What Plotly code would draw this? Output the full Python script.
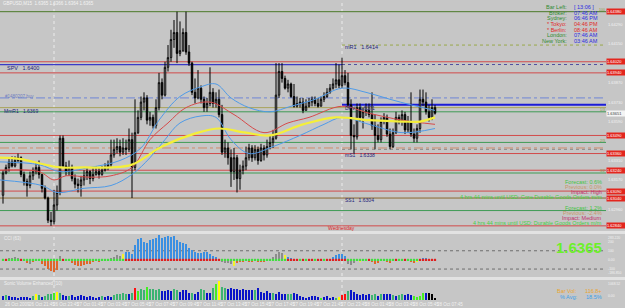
import plotly.graph_objects as go
import pandas as pd

# ---------------- data ----------------
symbol_title = "GBPUSD,M15  1.6365 1.6366 1.6364 1.6365"
start_time = "2009-10-26 19:45"
first_open = 1.6306
close = [1.6322, 1.6326, 1.6330, 1.6327, 1.6331, 1.6333, 1.6321, 1.6316, 1.6313, 1.6320,
         1.6323, 1.6326, 1.6321, 1.6311, 1.6304, 1.6288, 1.6287, 1.6299, 1.6308, 1.6347,
         1.6327, 1.6323, 1.6326, 1.6318, 1.6314, 1.6313, 1.6317, 1.6320, 1.6323, 1.6318,
         1.6321, 1.6323, 1.6321, 1.6324, 1.6326, 1.6328, 1.6335, 1.6339, 1.6341, 1.6337,
         1.6340, 1.6339, 1.6346, 1.6326, 1.6351, 1.6362, 1.6373, 1.6376, 1.6360, 1.6362,
         1.6356, 1.6369, 1.6387, 1.6378, 1.6398, 1.6405, 1.6418, 1.6423, 1.6408, 1.6410,
         1.6423, 1.6409, 1.6401, 1.6380, 1.6376, 1.6383, 1.6375, 1.6369, 1.6372, 1.6380,
         1.6372, 1.6375, 1.6364, 1.6337, 1.6340, 1.6333, 1.6323, 1.6333, 1.6318, 1.6324,
         1.6327, 1.6333, 1.6340, 1.6333, 1.6339, 1.6331, 1.6340, 1.6335, 1.6341, 1.6344,
         1.6347, 1.6378, 1.6395, 1.6390, 1.6383, 1.6386, 1.6377, 1.6370, 1.6372, 1.6373,
         1.6367, 1.6370, 1.6373, 1.6375, 1.6372, 1.6370, 1.6375, 1.6377, 1.6380, 1.6383,
         1.6386, 1.6389, 1.6385, 1.6392, 1.6387, 1.6371, 1.6349, 1.6348, 1.6369, 1.6362,
         1.6366, 1.6367, 1.6364, 1.6356, 1.6349, 1.6346, 1.6359, 1.6362, 1.6350, 1.6341,
         1.6351, 1.6362, 1.6359, 1.6364, 1.6353, 1.6359, 1.6350, 1.6347, 1.6354, 1.6375,
         1.6373, 1.6366, 1.6362, 1.6369, 1.6365]
high = [1.6324, 1.6328, 1.6333, 1.6334, 1.6334, 1.6336, 1.6334, 1.6323, 1.6318, 1.6323,
        1.6326, 1.6329, 1.6331, 1.6321, 1.6313, 1.6305, 1.6294, 1.6310, 1.6313, 1.6349,
        1.6349, 1.6330, 1.6331, 1.6328, 1.6321, 1.6318, 1.6320, 1.6324, 1.6326, 1.6324,
        1.6326, 1.6327, 1.6326, 1.6327, 1.6329, 1.6331, 1.6346, 1.6346, 1.6347, 1.6346,
        1.6347, 1.6346, 1.6354, 1.6351, 1.6375, 1.6367, 1.6377, 1.6380, 1.6378, 1.6366,
        1.6364, 1.6375, 1.6394, 1.6390, 1.6402, 1.6414, 1.6425, 1.6432, 1.6438, 1.6431,
        1.6426, 1.6438, 1.6414, 1.6402, 1.6390, 1.6396, 1.6385, 1.6377, 1.6376, 1.6398,
        1.6383, 1.6380, 1.6382, 1.6371, 1.6346, 1.6344, 1.6339, 1.6340, 1.6335, 1.6328,
        1.6331, 1.6341, 1.6343, 1.6342, 1.6342, 1.6341, 1.6343, 1.6342, 1.6346, 1.6349,
        1.6353, 1.6401, 1.6401, 1.6401, 1.6392, 1.6389, 1.6387, 1.6386, 1.6377, 1.6376,
        1.6376, 1.6375, 1.6376, 1.6377, 1.6377, 1.6376, 1.6377, 1.6380, 1.6383, 1.6386,
        1.6390, 1.6401, 1.6400, 1.6405, 1.6396, 1.6394, 1.6375, 1.6357, 1.6372, 1.6372,
        1.6369, 1.6372, 1.6372, 1.6380, 1.6364, 1.6357, 1.6362, 1.6365, 1.6364, 1.6354,
        1.6354, 1.6366, 1.6364, 1.6367, 1.6366, 1.6363, 1.6380, 1.6354, 1.6357, 1.6382,
        1.6382, 1.6380, 1.6371, 1.6375, 1.6371]
low = [1.6300, 1.6321, 1.6323, 1.6326, 1.6326, 1.6329, 1.6319, 1.6313, 1.6305, 1.6311,
       1.6317, 1.6321, 1.6318, 1.6308, 1.6303, 1.6286, 1.6284, 1.6285, 1.6295, 1.6306,
       1.6326, 1.6320, 1.6320, 1.6316, 1.6311, 1.6308, 1.6305, 1.6313, 1.6317, 1.6314,
       1.6316, 1.6320, 1.6318, 1.6320, 1.6323, 1.6324, 1.6326, 1.6333, 1.6336, 1.6334,
       1.6335, 1.6335, 1.6337, 1.6304, 1.6324, 1.6350, 1.6360, 1.6367, 1.6357, 1.6356,
       1.6354, 1.6354, 1.6367, 1.6375, 1.6377, 1.6395, 1.6402, 1.6412, 1.6401, 1.6406,
       1.6409, 1.6407, 1.6399, 1.6378, 1.6372, 1.6375, 1.6372, 1.6366, 1.6366, 1.6370,
       1.6369, 1.6369, 1.6362, 1.6335, 1.6333, 1.6328, 1.6312, 1.6317, 1.6308, 1.6310,
       1.6321, 1.6324, 1.6331, 1.6330, 1.6331, 1.6328, 1.6330, 1.6331, 1.6333, 1.6339,
       1.6340, 1.6346, 1.6376, 1.6387, 1.6382, 1.6380, 1.6376, 1.6369, 1.6369, 1.6369,
       1.6365, 1.6367, 1.6369, 1.6370, 1.6370, 1.6369, 1.6370, 1.6373, 1.6376, 1.6379,
       1.6382, 1.6383, 1.6383, 1.6383, 1.6385, 1.6369, 1.6339, 1.6336, 1.6346, 1.6359,
       1.6354, 1.6363, 1.6362, 1.6353, 1.6339, 1.6344, 1.6344, 1.6357, 1.6348, 1.6339,
       1.6340, 1.6350, 1.6357, 1.6356, 1.6350, 1.6351, 1.6348, 1.6344, 1.6344, 1.6351,
       1.6370, 1.6364, 1.6359, 1.6360, 1.6364]

# moving averages (bar index, price) read at sample points
ma_yellow_x = [-1, 6, 12, 19, 27, 36, 43, 53, 65, 72, 81, 89, 100, 111, 122, 133, 139, 144]
ma_yellow = [1.6333, 1.6332, 1.6329, 1.6326, 1.6326, 1.6326, 1.6328, 1.6341, 1.6351, 1.6354,
             1.6351, 1.6349, 1.6357, 1.6362, 1.6360, 1.6359, 1.6359, 1.6362]
ma_red_x = [-1, 12, 17, 21, 29, 36, 43, 49, 55, 61, 69, 77, 87, 95, 102, 113, 122, 133, 144]
ma_red = [1.6324, 1.6323, 1.6317, 1.6320, 1.6319, 1.6320, 1.6326, 1.6346, 1.6358, 1.6369,
          1.6373, 1.6364, 1.6351, 1.6358, 1.6362, 1.6370, 1.6365, 1.6360, 1.6357]
ma_up_x = [-1, 12, 19, 29, 39, 46, 52, 59, 66, 71, 76, 82, 89, 96, 104, 113, 121, 129, 136, 144]
ma_up = [1.6330, 1.6328, 1.6323, 1.6326, 1.6331, 1.6340, 1.6360, 1.6377, 1.6384, 1.6386,
         1.6376, 1.6369, 1.6366, 1.6370, 1.6375, 1.6383, 1.6380, 1.6375, 1.6371, 1.6367]
ma_lo_x = [-1, 13, 18, 27, 36, 43, 49, 54, 59, 66, 71, 76, 82, 90, 99, 107, 113, 122, 133, 144]
ma_lo = [1.6317, 1.6313, 1.6308, 1.6311, 1.6313, 1.6321, 1.6333, 1.6346, 1.6358, 1.6363,
         1.6362, 1.6346, 1.6336, 1.6341, 1.6349, 1.6357, 1.6362, 1.6357, 1.6351, 1.6354]

cci = [5, 10, 20, 25, 30, 20, 5, -10, -30, -45, -20, -10, -15, -40, -70, -100, -120, -128, -110, 45,
       10, 0, -10, -35, -55, -70, -65, -55, -40, -45, -25, -15, -20, -15, -10, -5, 20, 35, 50, 45,
       60, 85, 90, 70, 160, 230, 245, 200, 190, 215, 225, 245, 272, 240, 255, 265, 255, 260, 215, 200,
       190, 170, 130, 110, 90, 75, 80, 90, 85, 70, 45, 30, 15, -25, -30, -35, -40, -65, -30, -20,
       -20, -15, -25, -20, -15, -20, -18, -22, -15, -10, 30, 70, 90, 75, 50, 35, 25, 10, 5, -5,
       3, -3, 5, 2, -4, 3, 6, -2, 4, 8, 30, 55, 70, 65, 45, -40, -55, -30, -10, -20,
       -15, -5, 5, -25, -50, -35, -10, -15, -25, -30, -10, 10, -5, -10, 5, -15, -25, -30, -20, 15,
       25, 20, 15, 10, 12]

volume = [200, 250, 200, 150, 150, 100, 150, 150, 150, 100, 200, 300, 250, 150, 200, 300, 350, 400, 450, 400,
          250, 200, 200, 250, 150, 200, 250, 200, 150, 200, 150, 100, 150, 200, 150, 200, 150, 250, 350, 300,
          400, 350, 300, 400, 650, 500, 600, 550, 700, 600, 600, 550, 600, 500, 500, 550, 500, 600, 550, 450,
          550, 550, 400, 400, 350, 450, 600, 550, 400, 400, 650, 850, 1050, 700, 650, 600, 650, 600, 600, 550,
          600, 550, 550, 550, 550, 650, 450, 400, 500, 400, 400, 350, 450, 350, 300, 350, 300, 400, 350, 200,
          150, 100, 150, 200, 200, 150, 100, 150, 200, 100, 150, 100, 150, 250, 350, 500, 550, 450, 300, 250,
          300, 250, 300, 250, 300, 200, 350, 350, 300, 350, 250, 200, 250, 300, 250, 300, 250, 200, 150, 200,
          400, 400, 400, 350, 100]
volume_class = list("BGBBBBBBBBGYGBGGGLYGBBGBBBBBBBBBBGBBBGGGGGBGRLGGLGGGGBBBBGGBBBBGBBGGBBGLYGGBBBBBBBBBGBBBBBGBBBBGGBBBBBBBBBLBBBBGYRRGBBBBBBBGGBGBBBGBGGBBBLLLLB")

level_prices = [1.6438, 1.6414, 1.6402, 1.6400, 1.6400, 1.6394, 1.6376, 1.6371, 1.6369, 1.6366,
                1.6349, 1.6344, 1.6340, 1.6339, 1.6336, 1.6324, 1.6322, 1.6309, 1.6304, 1.6295, 1.6284]
marked_prices = [1.6438, 1.6402, 1.6394, 1.6349, 1.6336, 1.6324, 1.6309, 1.6304, 1.6284]
axis_prices = [1.6429, 1.6415, 1.6387, 1.6373, 1.6359, 1.6331, 1.6317, 1.6296]

clock_labels = ["Bar Left:", "Broker:", "Sydney:", "* Tokyo:", "* Berlin:", "London:", "New York:"]
clock_values = ["[ 13:06 ]", "07:46 AM", "06:46 PM", "04:46 PM", "08:46 AM", "07:46 AM", "03:46 AM"]
news_lines = ["Forecast: 0.6%", "Previous: 0.0%", "Impact: High",
              "4 hrs 44 mins until USD: Core Durable Goods Orders m/m",
              "Forecast: 1.2%", "Previous: -2.4%", "Impact: Medium",
              "4 hrs 44 mins until USD: Durable Goods Orders m/m"]

# ---------------- styles / geometry ----------------
W, H = 625, 308
PW, PH = 606, 300           # plot area (px)
BG = "#c6c6c6"
FONT = "Liberation Sans, Arial, sans-serif"
n = len(close)
idx = list(range(n))
opens = [first_open] + close[:-1]
XR = [-1, PW / 3 - 1]

def py2paper(py):
    return 1 - py / PH

fig = go.Figure()

fig.add_trace(go.Candlestick(
    x=idx, open=opens, high=high, low=low, close=close,
    increasing=dict(line=dict(color="black", width=1), fillcolor="white"),
    decreasing=dict(line=dict(color="black", width=1), fillcolor="black"),
    whiskerwidth=0, hoverinfo="skip", xaxis="x", yaxis="y", showlegend=False))

for xs, ys, col, wd in [(ma_lo_x, ma_lo, "#4f9be8", 1), (ma_up_x, ma_up, "#4f9be8", 1),
                        (ma_red_x, ma_red, "#d64a4a", 1), (ma_yellow_x, ma_yellow, "#f4ef3a", 2.2)]:
    fig.add_trace(go.Scatter(x=xs, y=ys, mode="lines", line=dict(color=col, width=wd, shape="spline"),
                             hoverinfo="skip", showlegend=False, xaxis="x", yaxis="y"))

# CCI colours
yellow_idx = {0, 40, 77, 94, 119, 138}
gray_idx = set(range(2, 6)) | {9, 19} | set(range(36, 40)) | set(range(73, 77)) | set(range(90, 94)) | {115, 116, 117}
cci_cols = []
for i, v in enumerate(cci):
    if i in yellow_idx:
        cci_cols.append("#f2f22a")
    elif i in gray_idx:
        cci_cols.append("#8c8c8c")
    elif v > 0:
        cci_cols.append("#3a8fe2")
    else:
        cci_cols.append("#e0662a")
fig.add_trace(go.Bar(x=idx, y=cci, marker=dict(color=cci_cols, line=dict(width=0)), width=0.9,
                     hoverinfo="skip", showlegend=False, xaxis="x2", yaxis="y2"))
dot_cols = ["#e02020" if (v > 0 and i not in gray_idx and i not in yellow_idx) else "#40e040"
            for i, v in enumerate(cci)]
fig.add_trace(go.Scatter(x=idx, y=[0] * n, mode="markers",
                         marker=dict(symbol="square", size=2.2, color=dot_cols),
                         hoverinfo="skip", showlegend=False, xaxis="x2", yaxis="y2"))

vcol = {"B": "#0a14c8", "G": "#3cb371", "L": "#44ee22", "Y": "#ffff00", "R": "#ff1010"}
fig.add_trace(go.Bar(x=idx, y=volume, marker=dict(color=[vcol[c] for c in volume_class], line=dict(width=0)),
                     width=0.85, hoverinfo="skip", showlegend=False, xaxis="x3", yaxis="y3"))

# ---------------- level lines ----------------
level_styles = [("#4d7a2a", 1, "solid", -1), ("#9aa84a", 1, "dot", 113), ("#d24b4b", 1, "solid", -1),
                ("#3a3ac8", 1.3, "solid", -1), ("#5050a0", 1, "dot", 113), ("#d24b4b", 1, "solid", -1),
                ("#6f86d6", 1, "dashdot", -1), ("#1c1cd8", 2, "solid", 113), ("#a9a35a", 1, "solid", -1),
                ("#3f9b55", 1, "solid", -1), ("#d24b4b", 1, "solid", -1), ("#3f9b55", 1, "solid", -1),
                ("#d08a6a", 1, "dashdot", -1), ("#8c8c8c", 1, "dot", 113), ("#d24b4b", 1, "solid", -1),
                ("#d24b4b", 1, "solid", -1), ("#3f9b55", 1, "solid", -1), ("#d24b4b", 1, "solid", -1),
                ("#8b6a30", 1, "solid", -1), ("#3f9b55", 1, "solid", -1), ("#d24b4b", 1, "solid", -1)]
shapes = []
for p, (col, wd, dash, x0) in zip(level_prices, level_styles):
    x1 = 113 if (dash == "solid" and col == "#3a3ac8") else XR[1]
    shapes.append(dict(type="line", xref="x", yref="y", x0=x0, x1=x1, y0=p, y1=p,
                       line=dict(color=col, width=wd, dash=dash), layer="below"))
# day separators
for xs in (17, 113):
    shapes.append(dict(type="line", xref="x", yref="paper", x0=xs, x1=xs, y0=0, y1=1,
                       line=dict(color="#ececec", width=1, dash="dot"), layer="below"))
# pane separators
for a, b in ((231, 234), (277, 280)):
    shapes.append(dict(type="rect", xref="paper", yref="paper", x0=0, x1=1.04, y0=py2paper(b), y1=py2paper(a),
                       fillcolor="#e2e2e2", line=dict(width=0), layer="above"))
# CCI dotted levels
for v in (100, -100):
    shapes.append(dict(type="line", xref="paper", yref="y2", x0=0, x1=1, y0=v, y1=v,
                       line=dict(color="#6e6e6e", width=1, dash="dot"), layer="below"))

# ---------------- annotations ----------------
ann = []

def txt(px, py, text, color, size=5.5, xa="left", bg=None, bold=False):
    t = f"<b>{text}</b>" if bold else text
    ann.append(dict(x=px / PW, y=py2paper(py), xref="paper", yref="paper", text=t, showarrow=False,
                    font=dict(family=FONT, size=size, color=color), xanchor=xa, yanchor="middle",
                    bgcolor=bg, borderpad=0))

txt(2, 4, symbol_title, "#f4f4f4", 4.5)
txt(6, 68, "SPV   1.6400", "#22227a", 5.5)
txt(4, 97, "#1480207 buy", "#7080c0", 4.5)
txt(3, 111, "MmR1   1.6369", "#22227a", 5)
txt(344, 47, "mR1   1.6414", "#22227a", 5.5)
txt(344, 108, "DPV   1.6371", "#22227a", 5)
txt(344, 155, "mS1   1.6338", "#22227a", 5)
txt(344, 200, "SS1   1.6304", "#22227a", 5)
txt(342, 228, "Wednesday", "#e02020", 5, xa="center")
for lbl, py in (("100", 10), ("1/3", 110), ("2/3", 141), ("3/2", 171)):
    txt(606, py, lbl, "#8a9a40", 3.5, xa="right")

lab_cols = ["#2f8a2f", "#2f8a2f", "#2f8a2f", "#e02828", "#e02828", "#2f8a2f", "#2f8a2f"]
val_cols = ["#2a2ae0", "#2a2ae0", "#2a2ae0", "#e02828", "#e02828", "#2a2ae0", "#2a2ae0"]
for k, (lb, vl) in enumerate(zip(clock_labels, clock_values)):
    y = 7 + k * 5.7
    txt(568, y, lb, lab_cols[k], 5.5, xa="right")
    txt(573, y, vl, val_cols[k], 5.5)

news_cols = ["#44c444", "#c8966a", "#c0306a", "#44d044"] * 2
news_y = [182, 187, 192, 197, 208, 213, 218, 223]
for t, c, y in zip(news_lines, news_cols, news_y):
    txt(603, y, t, c, 5.5, xa="right")

txt(3, 238, "CCI (63)", "#f0f0f0", 4.5)
txt(603, 247, "1.6365", "#6cf02a", 15, xa="right", bold=True)
txt(3, 283, "Sonic Volume Enhanced (10)", "#f0f0f0", 4.5)
txt(578, 291, "Bar Vol:", "#e8a530", 5.5, xa="right")
txt(603, 291, "116.8+", "#e8a530", 5.5, xa="right")
txt(578, 297, "% Avg:", "#3aa0e8", 5.5, xa="right")
txt(603, 297, "18.5%", "#3aa0e8", 5.5, xa="right")

# right price axis labels
for p in axis_prices:
    ann.append(dict(x=1, y=p, xref="paper", yref="y", text=f"{p:.5f}", showarrow=False, xanchor="left",
                    xshift=0, font=dict(family=FONT, size=4, color="#f2f2f2")))
for p in marked_prices:
    ann.append(dict(x=1, y=p, xref="paper", yref="y", text=f"{p:.5f}", showarrow=False, xanchor="left",
                    xshift=0, width=18, align="left", bgcolor="#e3261e", borderpad=0,
                    font=dict(family=FONT, size=4, color="white")))
ann.append(dict(x=1, y=1.6365, xref="paper", yref="y", text="1.63651", showarrow=False, xanchor="left",
                xshift=0, width=18, align="left", bgcolor="#f4f4f4", borderpad=0,
                font=dict(family=FONT, size=4, color="#404040")))
for v, t, ya in ((283.22, "283.220", "top"), (200, "200", "middle"), (100, "100", "middle"),
                 (0, "0.00", "middle"), (-100, "-100", "middle"), (-186.85, "-186.850", "bottom")):
    ann.append(dict(x=1, y=v, xref="paper", yref="y2", text=t, showarrow=False, xanchor="left", xshift=0,
                    yanchor=ya, font=dict(family=FONT, size=3.4, color="#f2f2f2")))
for v, t, ya in ((1068.52, "1068.52", "top"), (0, "0.00", "bottom")):
    ann.append(dict(x=1, y=v, xref="paper", yref="y3", text=t, showarrow=False, xanchor="left", xshift=0,
                    yanchor=ya, font=dict(family=FONT, size=3.4, color="#f2f2f2")))

# time labels
times = pd.date_range(start_time, periods=n, freq="15min")
ann.append(dict(x=0, y=0, xref="x3", yref="paper", text=times[0].strftime("%d %b %Y"), showarrow=False,
                xanchor="left", yanchor="top", font=dict(family=FONT, size=4.5, color="#f2f2f2")))
for i in range(8, n, 8):
    ann.append(dict(x=i, y=0, xref="x3", yref="paper", text=times[i].strftime("%d %b %H:%M"), showarrow=False,
                    xanchor="left", yanchor="top", font=dict(family=FONT, size=4.5, color="#f2f2f2")))

ax_common = dict(showgrid=False, zeroline=False, showticklabels=False, showline=False, ticks="",
                 range=XR, fixedrange=True)
fig.update_layout(
    width=W, height=H, margin=dict(l=0, r=W - PW, t=0, b=H - PH),
    paper_bgcolor=BG, plot_bgcolor=BG, showlegend=False, bargap=0,
    xaxis=dict(domain=[0, 1], anchor="y", rangeslider=dict(visible=False), **ax_common),
    xaxis2=dict(domain=[0, 1], anchor="y2", matches="x", **ax_common),
    xaxis3=dict(domain=[0, 1], anchor="y3", matches="x", **ax_common),
    yaxis=dict(domain=[py2paper(231), 1], range=[1.62803, 1.64464], showgrid=False, zeroline=False,
               showticklabels=False, fixedrange=True),
    yaxis2=dict(domain=[py2paper(277), py2paper(234)], range=[-186.85, 283.22], showgrid=False,
                zeroline=False, showticklabels=False, fixedrange=True),
    yaxis3=dict(domain=[0, py2paper(280)], range=[0, 1080], showgrid=False, zeroline=False,
                showticklabels=False, fixedrange=True),
    shapes=shapes, annotations=ann,
)

fig.write_html("out.html", config={"displayModeBar": False, "staticPlot": True})
